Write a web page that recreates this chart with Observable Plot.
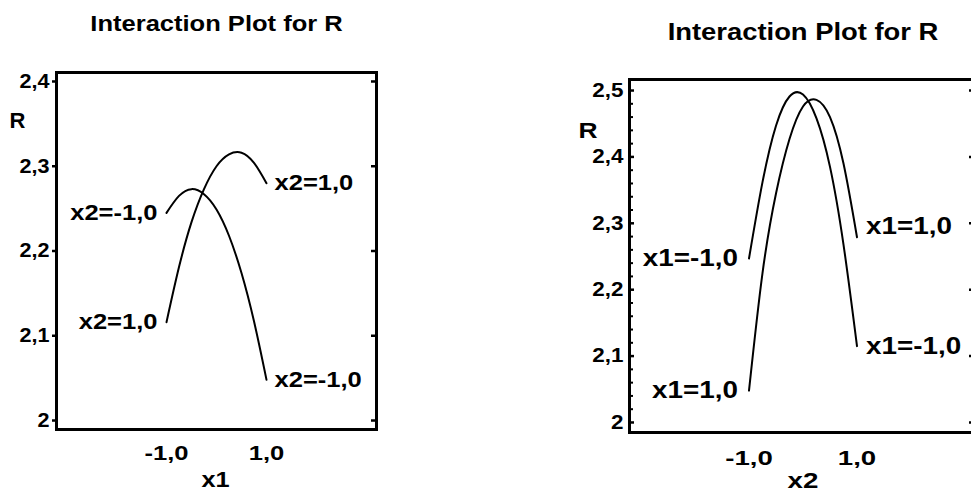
<!DOCTYPE html>
<html><head><meta charset="utf-8">
<script src="https://cdn.jsdelivr.net/npm/d3@7"></script>
<script src="https://cdn.jsdelivr.net/npm/@observablehq/plot@0.6"></script>
<style>
html,body{margin:0;padding:0;background:#fff;overflow:hidden}
#wrap{position:relative;width:971px;height:493px;overflow:hidden;background:#fff}
#left,#right{position:absolute;top:0}
#left{left:0}
#right{left:480px}
</style></head>
<body><div id="wrap"><div id="left"></div><div id="right"></div></div>
<script>
// ---------- data ----------
const chartTitle = "Interaction Plot for R";
const responseLabel = "R";
const xLevels = [-1, -0.75, -0.5, -0.25, 0, 0.25, 0.5, 0.75, 1];
const xTicks = [-1, 1];
const xTickLabels = ["-1,0", "1,0"];

// left panel: R vs x1, one line per x2 level
const leftXLabel = "x1";
const leftSeriesNames = ["x2=-1,0", "x2=1,0"];
const leftRx2Minus = [2.245, 2.265, 2.273, 2.267, 2.249, 2.218, 2.174, 2.117, 2.048];
const leftRx2Plus  = [2.116, 2.181, 2.234, 2.273, 2.300, 2.314, 2.316, 2.304, 2.280];
const leftYTicks = [2.0, 2.1, 2.2, 2.3, 2.4];
const leftYTickLabels = ["2", "2,1", "2,2", "2,3", "2,4"];
const leftXDomain = [-3.2, 3.2];
const leftYDomain = [1.9894, 2.4106];

// right panel: R vs x2, one line per x1 level
const rightXLabel = "x2";
const rightSeriesNames = ["x1=-1,0", "x1=1,0"];
const rightRx1Minus = [2.247, 2.362, 2.447, 2.491, 2.494, 2.458, 2.385, 2.268, 2.115];
const rightRx1Plus  = [2.048, 2.225, 2.345, 2.427, 2.476, 2.486, 2.460, 2.390, 2.279];
const rightYTicks = [2.0, 2.1, 2.2, 2.3, 2.4, 2.5];
const rightYTickLabels = ["2", "2,1", "2,2", "2,3", "2,4", "2,5"];
const rightYMinorTicks = [2.02, 2.04, 2.06, 2.08, 2.12, 2.14, 2.16, 2.18, 2.22, 2.24, 2.26, 2.28,
  2.32, 2.34, 2.36, 2.38, 2.42, 2.44, 2.46, 2.48];
const rightXDomain = [-3.213, 3.213];
const rightYDomain = [1.9849, 2.5166];

// ---------- helpers ----------
function rows(names, seriesList) {
  const out = [];
  names.forEach((name, s) => xLevels.forEach((x, i) => out.push({series: name, x, R: seriesList[s][i]})));
  return out;
}
const FONT = "'Liberation Sans', Arial, Helvetica, sans-serif";
const xFmt = new Map(xTicks.map((t, i) => [t, xTickLabels[i]]));

function panel(cfg) {
  const data = rows(cfg.names, cfg.series);
  const starts = data.filter(d => d.x === xLevels[0]);
  const ends = data.filter(d => d.x === xLevels[xLevels.length - 1]);
  const yFmt = new Map(cfg.yTicks.map((t, i) => [t, cfg.yTickLabels[i]]));
  const marks = [
    Plot.frame({stroke: "black", strokeWidth: 3}),
    Plot.axisY(cfg.yTicks, {anchor: "left", tickSize: cfg.leftTickSize, tickPadding: cfg.leftTickPadding,
      tickFormat: d => yFmt.get(d), fontSize: cfg.yTickFont, fontWeight: "bold", strokeWidth: 2.5, label: null}),
  ];
  if (cfg.innerLeftTicks) {
    marks.push(Plot.axisY(cfg.yTicks, {anchor: "left", tickSize: -5, tickFormat: () => "", strokeWidth: 2.5, label: null}));
  }
  if (cfg.minorTicks) {
    marks.push(Plot.axisY(cfg.minorTicks, {anchor: "left", tickSize: -4, tickFormat: () => "", strokeWidth: 2, label: null}));
  }
  marks.push(
    Plot.axisY(cfg.yTicks, {anchor: "right", tickSize: cfg.rightTickSize, tickFormat: () => "", strokeWidth: 2.5, label: null}),
    Plot.axisX(xTicks, {anchor: "bottom", tickSize: 0, tickPadding: cfg.xTickPadding,
      tickFormat: d => xFmt.get(d), fontSize: cfg.xTickFont, fontWeight: "bold", label: null}),
    Plot.line(data, {x: "x", y: "R", z: "series", stroke: "black", strokeWidth: 2, curve: "natural"}),
    Plot.text(starts, {x: "x", y: "R", text: "series", textAnchor: "end", dx: cfg.startDx,
      fontSize: cfg.labelFont, fontWeight: "bold"}),
    Plot.text(ends, {x: "x", y: "R", text: "series", textAnchor: "start", dx: cfg.endDx,
      fontSize: cfg.labelFont, fontWeight: "bold", filter: d => d.series !== cfg.raisedEnd}),
    Plot.text(ends, {x: "x", y: "R", text: "series", textAnchor: "start", dx: cfg.endDx,
      dy: cfg.raisedDy, fontSize: cfg.labelFont, fontWeight: "bold", filter: d => d.series === cfg.raisedEnd}),
    Plot.text([chartTitle], {text: d => d, frameAnchor: "top", lineAnchor: "middle", dy: cfg.titleDy,
      fontSize: cfg.titleFont, fontWeight: "bold"}),
    Plot.text([responseLabel], {text: d => d, frameAnchor: "top-left", lineAnchor: "middle", textAnchor: "start",
      dx: cfg.rDx, dy: cfg.rDy, fontSize: 22, fontWeight: "bold"}),
    Plot.text([cfg.xLabel], {text: d => d, frameAnchor: "bottom", lineAnchor: "middle", dx: cfg.xLabelDx, dy: cfg.xLabelDy,
      fontSize: 22, fontWeight: "bold"})
  );
  return Plot.plot({
    width: cfg.width, height: 493,
    marginLeft: cfg.marginLeft, marginRight: cfg.marginRight,
    marginTop: cfg.marginTop, marginBottom: cfg.marginBottom,
    x: {domain: cfg.xDomain},
    y: {domain: cfg.yDomain},
    style: {fontFamily: FONT, fontWeight: "bold", background: "white", color: "black", overflow: "hidden"},
    marks
  });
}

function stretch(svg, factors, names, xLabel) {
  svg.querySelectorAll("text").forEach(t => {
    const txt = t.textContent;
    if (!txt) return;
    const g = t.closest("g[aria-label]");
    const role = g ? g.getAttribute("aria-label") : "";
    let k;
    if (txt === chartTitle) k = factors.title;
    else if (names.includes(txt)) k = factors.series;
    else if (txt === responseLabel) k = factors.ylabel;
    else if (txt === xLabel) k = factors.xlabel;
    else if (role === "y-axis tick label") k = factors.ytick;
    else if (role === "x-axis tick label") k = factors.xtick;
    if (!k) return;
    const w = t.getComputedTextLength();
    if (w > 0) {
      t.setAttribute("textLength", (w * k).toFixed(2));
      t.setAttribute("lengthAdjust", "spacingAndGlyphs");
    }
  });
}

const leftSvg = panel({
  width: 480, marginLeft: 56, marginRight: 104, marginTop: 72, marginBottom: 64,
  names: leftSeriesNames, series: [leftRx2Minus, leftRx2Plus],
  yTicks: leftYTicks, yTickLabels: leftYTickLabels,
  xDomain: leftXDomain, yDomain: leftYDomain,
  leftTickSize: 4, leftTickPadding: 3, innerLeftTicks: false, minorTicks: null,
  rightTickSize: -6, yTickFont: 20, xTickFont: 20, xTickPadding: 16,
  labelFont: 22, startDx: -9, endDx: 8, raisedEnd: null, raisedDy: 0,
  titleFont: 22, titleDy: -49, rDx: -47, rDy: 48.5,
  xLabel: leftXLabel, xLabelDx: -1, xLabelDy: 50.5
});
document.getElementById("left").appendChild(leftSvg);
stretch(leftSvg, {title: 1.16, series: 1.16, ytick: 1.08, xtick: 1.28, ylabel: 1.0, xlabel: 1.15},
  leftSeriesNames, leftXLabel);

const rightSvg = panel({
  width: 491, marginLeft: 149, marginRight: -5, marginTop: 79, marginBottom: 61,
  names: rightSeriesNames, series: [rightRx1Minus, rightRx1Plus],
  yTicks: rightYTicks, yTickLabels: rightYTickLabels,
  xDomain: rightXDomain, yDomain: rightYDomain,
  leftTickSize: 0, leftTickPadding: 6, innerLeftTicks: true, minorTicks: rightYMinorTicks,
  rightTickSize: -8, yTickFont: 19.5, xTickFont: 20, xTickPadding: 18,
  labelFont: 23, startDx: -11, endDx: 9, raisedEnd: "x1=1,0", raisedDy: -11,
  titleFont: 23, titleDy: -47, rDx: -51, rDy: 51,
  xLabel: rightXLabel, xLabelDx: 0, xLabelDy: 48.5
});
document.getElementById("right").appendChild(rightSvg);
stretch(rightSvg, {title: 1.19, series: 1.21, ytick: 1.15, xtick: 1.38, ylabel: 1.2, xlabel: 1.26},
  rightSeriesNames, rightXLabel);
</script>
</body></html>
